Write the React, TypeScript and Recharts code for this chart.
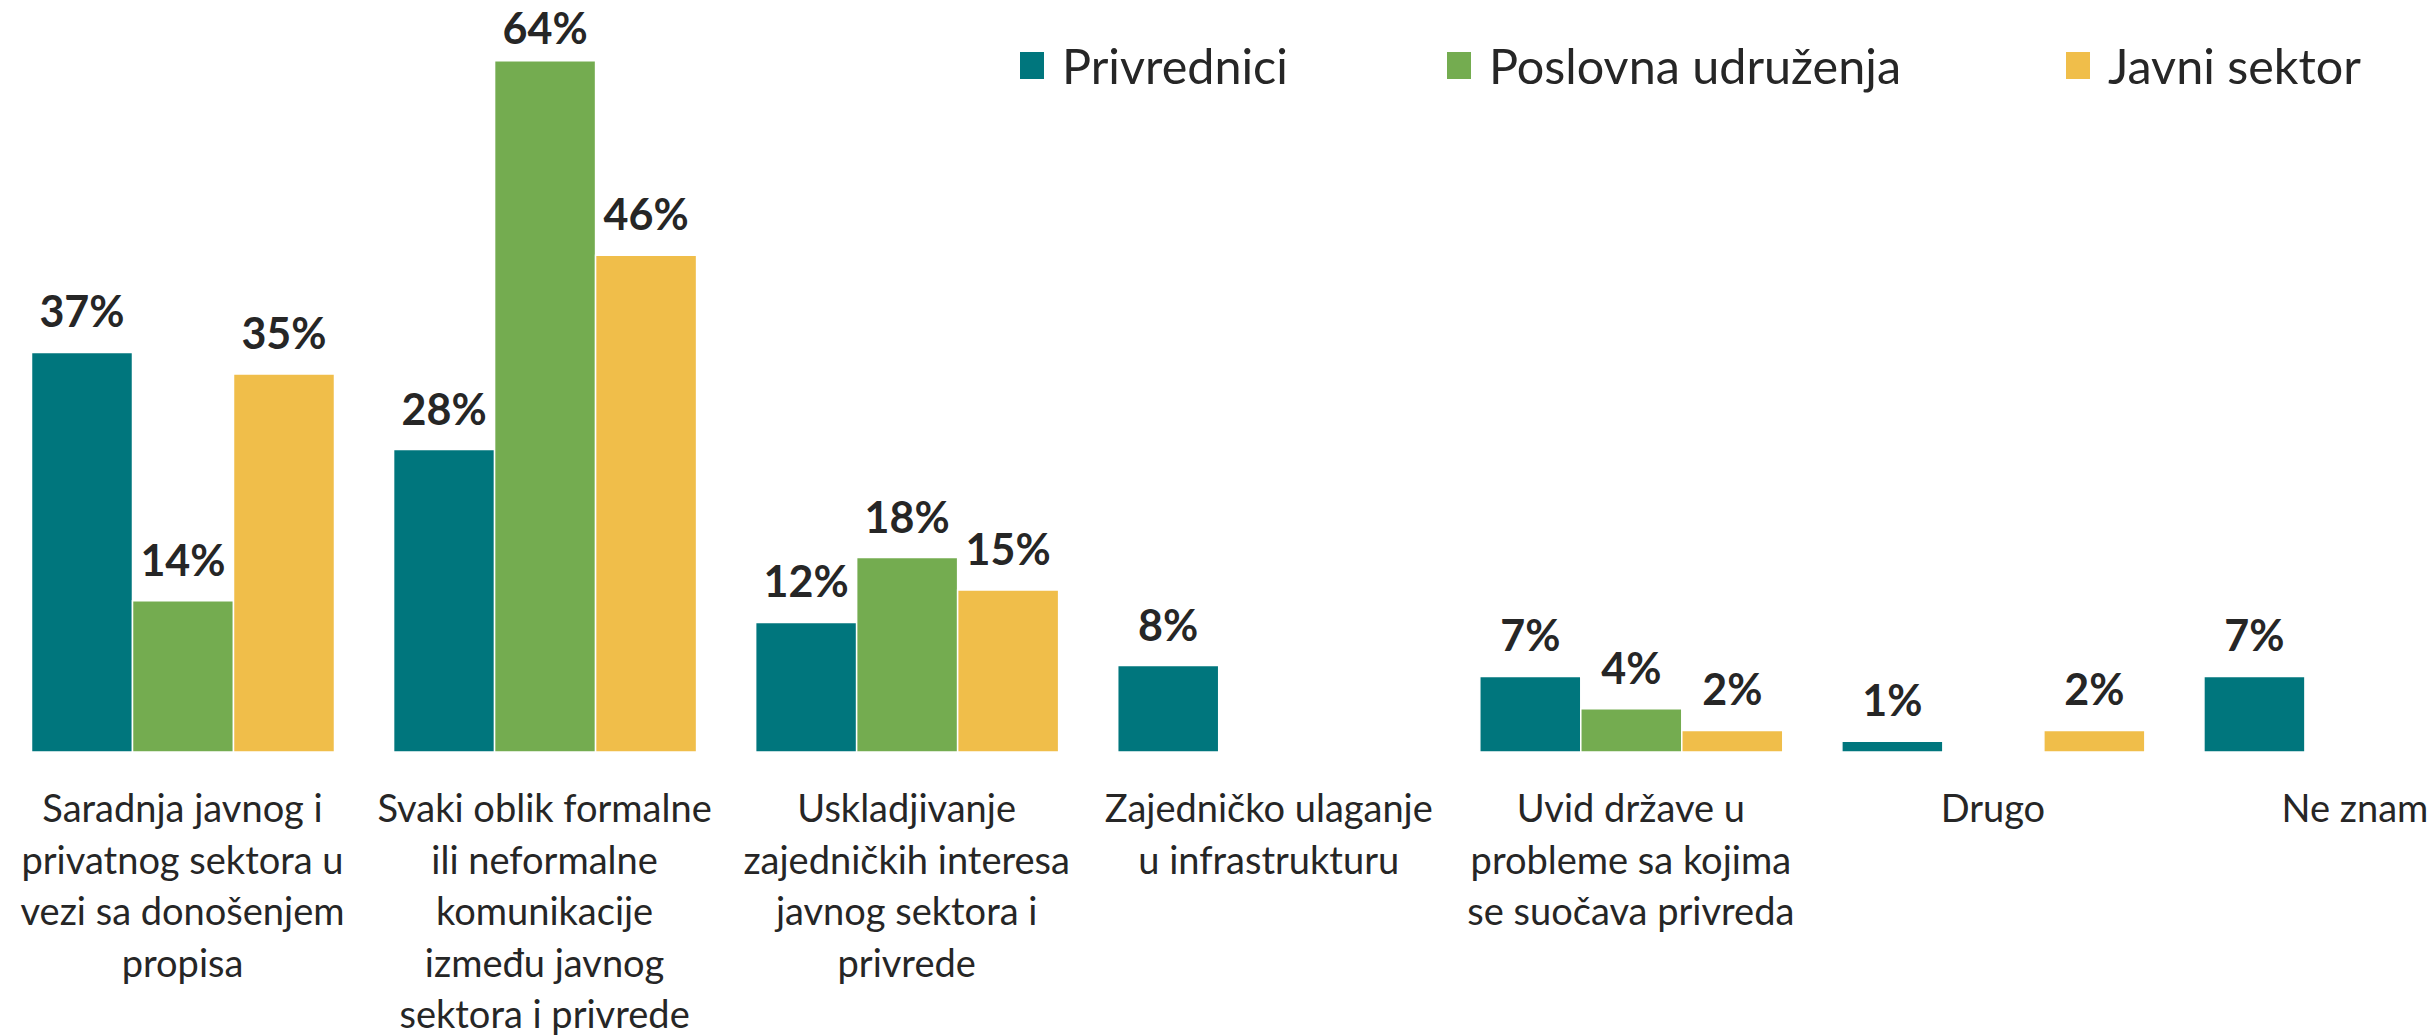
import { BarChart, Bar, XAxis, YAxis, LabelList } from "recharts";

const categories = [
  "Saradnja javnog i\nprivatnog sektora u\nvezi sa donošenjem\npropisa",
  "Svaki oblik formalne\nili neformalne\nkomunikacije\nizmeđu javnog\nsektora i privrede",
  "Uskladjivanje\nzajedničkih interesa\njavnog sektora i\nprivrede",
  "Zajedničko ulaganje\nu infrastrukturu",
  "Uvid države u\nprobleme sa kojima\nse suočava privreda",
  "Drugo",
  "Ne znam",
];

const privrednici = [37, 28, 12, 8, 7, 1, 7];
const poslovnaUdruzenja = [14, 64, 18, null, 4, null, null];
const javniSektor = [35, 46, 15, null, 2, 2, null];

const seriesNames = ["Privrednici", "Poslovna udruženja", "Javni sektor"];
const seriesColors = ["#00767D", "#74AC50", "#F0BE4A"];

const data = categories.map((name, i) => ({
  name,
  privrednici: privrednici[i],
  poslovna: poslovnaUdruzenja[i],
  javni: javniSektor[i],
}));

const FONT = "Lato, 'Noto Sans', sans-serif";
const TEXT = "#262626";

const CategoryTick = ({ x, y, payload }: any) => {
  const lines = String(payload.value).split("\n");
  return (
    <text x={x} y={y} textAnchor="middle" fill={TEXT} fontFamily={FONT} fontSize={38}>
      {lines.map((line, i) => (
        <tspan key={i} x={x} dy={i === 0 ? 70 : 51.5}>
          {line}
        </tspan>
      ))}
    </text>
  );
};

// labels sit 25px above the bar, but never higher than the top of the picture allows
const ValueLabel = ({ x, y, width, value }: any) => {
  if (value == null) return null;
  return (
    <text
      x={x + width / 2}
      y={Math.max(y - 25, 44)}
      textAnchor="middle"
      fill={TEXT}
      fontFamily={FONT}
      fontWeight={700}
      fontSize={43}
    >
      {value}%
    </text>
  );
};

const legendLefts = [1020, 1447, 2066];

function ChartLegend() {
  return (
    <>
      {seriesNames.map((name, i) => (
        <div
          key={name}
          style={{
            position: "absolute",
            left: legendLefts[i],
            top: 36,
            display: "flex",
            alignItems: "center",
            fontFamily: FONT,
            fontSize: 48.5,
            color: TEXT,
            whiteSpace: "nowrap",
          }}
        >
          <span
            style={{
              display: "inline-block",
              width: 24,
              height: 27,
              background: seriesColors[i],
              marginRight: 18,
            }}
          />
          {name}
        </div>
      ))}
    </>
  );
}

export default function App() {
  const keys = ["privrednici", "poslovna", "javni"];
  return (
    <div
      style={{
        position: "absolute",
        left: 0,
        top: 0,
        width: 2435,
        height: 1036,
        overflow: "hidden",
        background: "#fff",
      }}
    >
      <BarChart
        width={2536}
        height={1036}
        data={data}
        margin={{ top: 50, right: 0, left: 1.5, bottom: 0 }}
        barSize={101}
        barGap={0}
      >
        <XAxis
          dataKey="name"
          axisLine={false}
          tickLine={false}
          tickSize={0}
          tickMargin={0}
          height={284}
          interval={0}
          tick={<CategoryTick />}
        />
        <YAxis hide domain={[0, 65]} />
        {keys.map((k, i) => (
          <Bar
            key={k}
            dataKey={k}
            name={seriesNames[i]}
            fill={seriesColors[i]}
            stroke="#ffffff"
            strokeWidth={1.5}
            isAnimationActive={false}
          >
            <LabelList dataKey={k} content={<ValueLabel />} />
          </Bar>
        ))}
      </BarChart>
      <ChartLegend />
    </div>
  );
}
